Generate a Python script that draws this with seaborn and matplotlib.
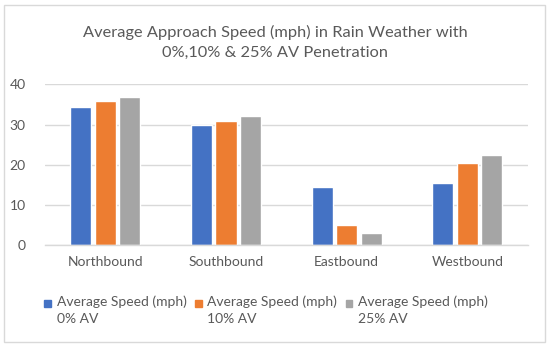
import matplotlib
matplotlib.use("Agg")
import matplotlib.pyplot as plt
import matplotlib.patches as mpatches
from matplotlib.legend_handler import HandlerPatch
import seaborn as sns
import pandas as pd

directions = ["Northbound", "Southbound", "Eastbound", "Westbound"]
speed_0 = [34.3, 29.9, 14.5, 15.6]
speed_10 = [35.9, 30.9, 5.0, 20.5]
speed_25 = [36.8, 32.2, 3.1, 22.5]
series = ["Average Speed (mph)\n0% AV", "Average Speed (mph)\n10% AV", "Average Speed (mph)\n25% AV"]
colors = ["#4472C4", "#ED7D31", "#A5A5A5"]
title = "Average Approach Speed (mph) in Rain Weather with\n0%,10% & 25% AV Penetration"

rows = []
for s, vals in zip(series, [speed_0, speed_10, speed_25]):
    for d, v in zip(directions, vals):
        rows.append({"Direction": d, "Series": s, "Speed": v})
df = pd.DataFrame(rows)

sns.set_theme(style="white")
plt.rcParams["font.family"] = ["Lato", "DejaVu Sans"]

fig = plt.figure(figsize=(5.5, 3.47), dpi=100)
ax = fig.add_axes([45/550, 1-245.3/347, (527.7-45)/550, (245.3-84.3)/347])

sns.barplot(data=df, x="Direction", y="Speed", hue="Series", palette=colors,
            width=0.61, gap=0.14, ax=ax, legend=False, saturation=1)

ax.set_ylim(0, 40)
ax.set_xlim(-0.5, 3.5)
ax.set_yticks([0, 10, 20, 30, 40])
ax.yaxis.grid(True, color="#D9D9D9", linewidth=1)
ax.set_axisbelow(True)
for side in ["left", "right", "top"]:
    ax.spines[side].set_visible(False)
ax.spines["bottom"].set_color("#D9D9D9")
ax.spines["bottom"].set_linewidth(1)
ax.tick_params(axis="both", length=0, colors="#595959", labelsize=10)
ax.tick_params(axis="y", pad=14)
ax.tick_params(axis="x", pad=8)
ax.set_xlabel("")
ax.set_ylabel("")

fig.text(0.5, 1-42.5/347, title, ha="center", va="center", fontsize=11.8,
         color="#595959", linespacing=1.6)


def top_square(legend, orig_handle, xdescent, ydescent, width, height, fontsize):
    s = 0.5 * fontsize
    return mpatches.Rectangle((-xdescent, -ydescent + height - s - 0.05 * fontsize), s, s)


handles = [mpatches.Patch(color=c, label=s) for c, s in zip(colors, series)]
leg = fig.legend(handles=handles, loc="center", bbox_to_anchor=(266/550, 1-310/347),
                 ncol=3, frameon=False, fontsize=10, handlelength=0.5, handleheight=2.2,
                 handletextpad=0.4, columnspacing=0.6, labelcolor="#595959",
                 handler_map={mpatches.Patch: HandlerPatch(patch_func=top_square)})
for t in leg.get_texts():
    t.set_linespacing(1.5)

fig.patches.append(mpatches.Rectangle((4/550, 1-342/347), 541/550, 337/347,
                                      transform=fig.transFigure, fill=False,
                                      edgecolor="#D9D9D9", linewidth=1))

fig.savefig("out.png", dpi=100)
